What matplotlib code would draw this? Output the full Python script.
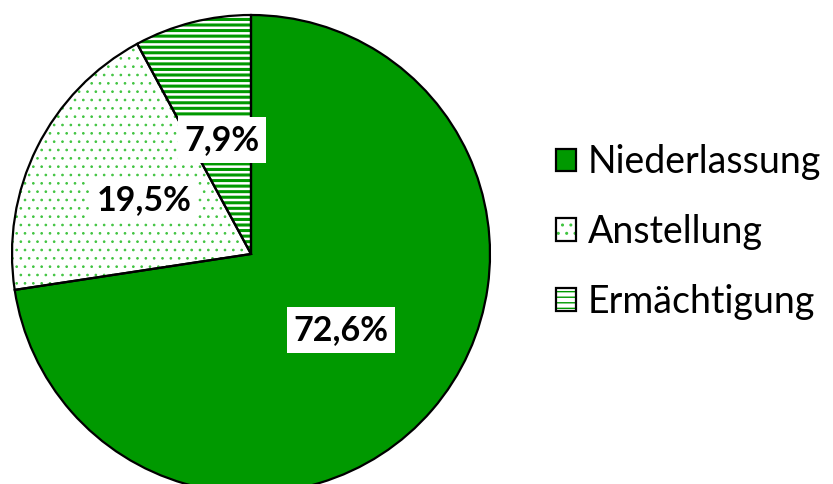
import matplotlib
matplotlib.use("Agg")
import matplotlib.pyplot as plt
from matplotlib.patches import Patch
from matplotlib.legend_handler import HandlerTuple

plt.rcParams.update({
    "font.family": ["Lato", "DejaVu Sans"],
})

categories = ["Niederlassung", "Anstellung", "Ermächtigung"]
shares = [72.6, 19.5, 7.9]
pct_labels = ["72,6%", "19,5%", "7,9%"]

GREEN = "#009900"
DOT = "#40c440"
faces = [GREEN, "white", "white"]
hatch_cols = [GREEN, DOT, GREEN]
hatches = [None, "..", "---"]
hatch_lw = [1.0, 0.7, 2.2]

W, H = 833, 484
fig = plt.figure(figsize=(W / 100, H / 100), dpi=100)
ax = fig.add_axes([0, 0, 1, 1])

cx, cy, r = 251, H - 254, 239
for i in range(3):
    with plt.rc_context({"hatch.linewidth": hatch_lw[i]}):
        wedges, _ = ax.pie(shares, startangle=90, counterclock=False,
                           center=(cx, cy), radius=r, colors=faces,
                           wedgeprops=dict(linewidth=0))
    for j, w in enumerate(wedges):
        if j != i:
            w.set_visible(False)
            continue
        w.set_edgecolor(hatch_cols[j])
        w.set_linewidth(0)
        if hatches[j]:
            w.set_hatch(hatches[j])
ax.pie(shares, startangle=90, counterclock=False, center=(cx, cy),
       radius=r, colors=["none"] * 3,
       wedgeprops=dict(linewidth=1.6, edgecolor="black", fill=False))

# label positions (pixel coords from top-left)
label_pos = [(341, 330), (144, 200), (222, 140)]
for txt, (px, py) in zip(pct_labels, label_pos):
    ax.text(px, H - py, txt, ha="center", va="center", fontsize=24.5,
            fontweight="bold", color="black",
            bbox=dict(facecolor="white", edgecolor="none", pad=5))

handles = []
for i, c in enumerate(categories):
    with plt.rc_context({"hatch.linewidth": hatch_lw[i] * 0.9}):
        inner = Patch(facecolor=faces[i], edgecolor=hatch_cols[i],
                      linewidth=0, hatch=hatches[i])
    outer = Patch(facecolor="none", edgecolor="black", linewidth=1.6)
    handles.append((inner, outer))
leg = ax.legend(handles=handles, labels=categories, loc="center left",
                handler_map={tuple: HandlerTuple(ndivide=1, pad=0)},
                bbox_to_anchor=(522 / W, (H - 232) / H),
                frameon=False, fontsize=27, handlelength=0.55,
                handleheight=0.55, handletextpad=0.3, labelspacing=0.9)

ax.set_xlim(0, W)
ax.set_ylim(0, H)
ax.set_aspect("auto")
ax.axis("off")
fig.savefig("out.png", dpi=100)
